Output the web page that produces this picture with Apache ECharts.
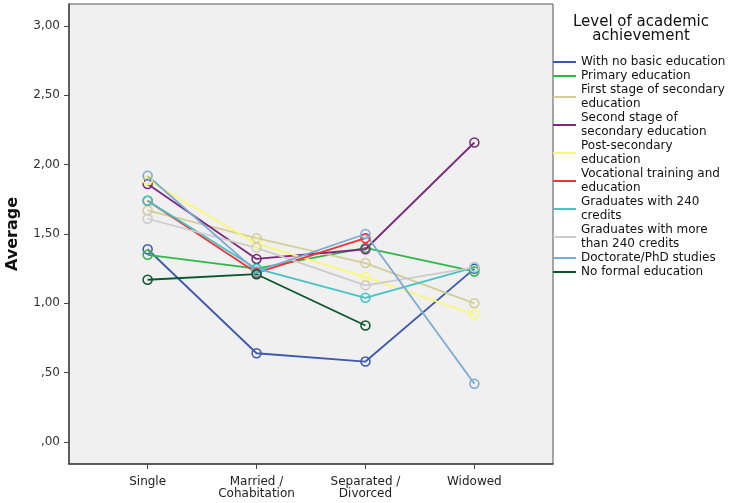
<!DOCTYPE html>
<html>
<head>
<meta charset="utf-8">
<script src="https://cdn.jsdelivr.net/npm/echarts@6/dist/echarts.min.js"></script>
<style>
html,body{margin:0;padding:0;background:#fff;}
#chart{width:733px;height:503px;}
</style>
</head>
<body>
<div id="chart"></div>
<script>
var categories = ['Single', 'Married /\nCohabitation', 'Separated /\nDivorced', 'Widowed'];
var yTicks = [0, 0.5, 1, 1.5, 2, 2.5, 3];

var seriesNames = [
  'With no basic education',
  'Primary education',
  'First stage of secondary\neducation',
  'Second stage of\nsecondary education',
  'Post-secondary\neducation',
  'Vocational training and\neducation',
  'Graduates with 240\ncredits',
  'Graduates with more\nthan 240 credits',
  'Doctorate/PhD studies',
  'No formal education'
];
var seriesColors = ['#3E58AC', '#2EB848', '#D3CE97', '#7C287D', '#FBF873', '#EF3338', '#48C2C5', '#CCCCCC', '#7AAAD5', '#0A562C'];

var noBasic      = [1.39, 0.64, 0.58, 1.25];
var primary      = [1.35, 1.25, 1.40, 1.23];
var firstStage   = [1.67, 1.47, 1.29, 1.00];
var secondStage  = [1.86, 1.32, 1.39, 2.16];
var postSec      = [1.89, 1.43, 1.19, 0.92];
var vocational   = [1.74, 1.22, 1.47, null];
var grad240      = [1.74, 1.25, 1.04, 1.26];
var gradMore240  = [1.61, 1.40, 1.13, 1.26];
var doctorate    = [1.92, 1.23, 1.50, 0.42];
var noFormal     = [1.17, 1.21, 0.84, null];

var allValues = [noBasic, primary, firstStage, secondStage, postSec, vocational, grad240, gradMore240, doctorate, noFormal];

var chart = echarts.init(document.getElementById('chart'));
var font = 'DejaVu Sans';

var series = allValues.map(function (vals, k) {
  return {
    name: seriesNames[k],
    type: 'line',
    data: vals.map(function (v, i) { return [i, v == null ? '-' : v]; }),
    symbol: 'circle',
    symbolSize: 9,
    connectNulls: false,
    lineStyle: { color: seriesColors[k], width: 1.8 },
    itemStyle: { color: 'rgba(0,0,0,0)', borderColor: seriesColors[k], borderWidth: 1.5 },
    emphasis: { disabled: true },
    animation: false
  };
});

chart.setOption({
  backgroundColor: '#ffffff',
  animation: false,
  grid: {
    left: 69, top: 4, right: 180, bottom: 39,
    containLabel: false,
    outerBoundsMode: 'none',
    show: true, backgroundColor: '#F0F0F0', borderColor: '#555555', borderWidth: 1
  },
  xAxis: {
    type: 'value',
    min: -0.722, max: 3.722,
    axisLine: { show: true, onZero: false, lineStyle: { color: '#444444', width: 1.5 } },
    axisTick: { show: true, customValues: [0, 1, 2, 3], length: 5, lineStyle: { color: '#444444', width: 1 } },
    axisLabel: {
      customValues: [0, 1, 2, 3],
      formatter: function (v) { return categories[Math.round(v)]; },
      fontFamily: font, fontSize: 12, color: '#222222', lineHeight: 12, margin: 12
    },
    splitLine: { show: false }
  },
  yAxis: {
    type: 'value',
    min: -0.159, max: 3.159,
    name: 'Average',
    nameLocation: 'middle',
    nameGap: 48,
    nameTextStyle: { fontFamily: font, fontSize: 16, fontWeight: 'bold', color: '#111111' },
    axisLine: { show: true, onZero: false, lineStyle: { color: '#444444', width: 1.5 } },
    axisTick: { show: true, customValues: yTicks, length: 5, lineStyle: { color: '#444444', width: 1 } },
    axisLabel: {
      customValues: yTicks,
      formatter: function (v) { return v.toFixed(2).replace('.', ',').replace(/^0/, ''); },
      fontFamily: font, fontSize: 12, color: '#333333', margin: 9
    },
    splitLine: { show: false }
  },
  legend: {
    orient: 'vertical',
    left: 553, top: 55,
    padding: 0,
    itemGap: 0,
    itemWidth: 23,
    itemHeight: 2,
    icon: 'rect',
    data: seriesNames.map(function (n, k) { return { name: n, itemStyle: { color: seriesColors[k], borderWidth: 0 } }; }),
    textStyle: { fontFamily: font, fontSize: 12, color: '#111111', lineHeight: 14 },
    selectedMode: false
  },
  graphic: [{
    type: 'text',
    x: 641, y: 29,
    style: {
      text: 'Level of academic\nachievement',
      fontFamily: font, fontSize: 15, lineHeight: 14,
      fill: '#111111', textAlign: 'center', textVerticalAlign: 'middle'
    }
  }],
  series: series
});
</script>
</body>
</html>
